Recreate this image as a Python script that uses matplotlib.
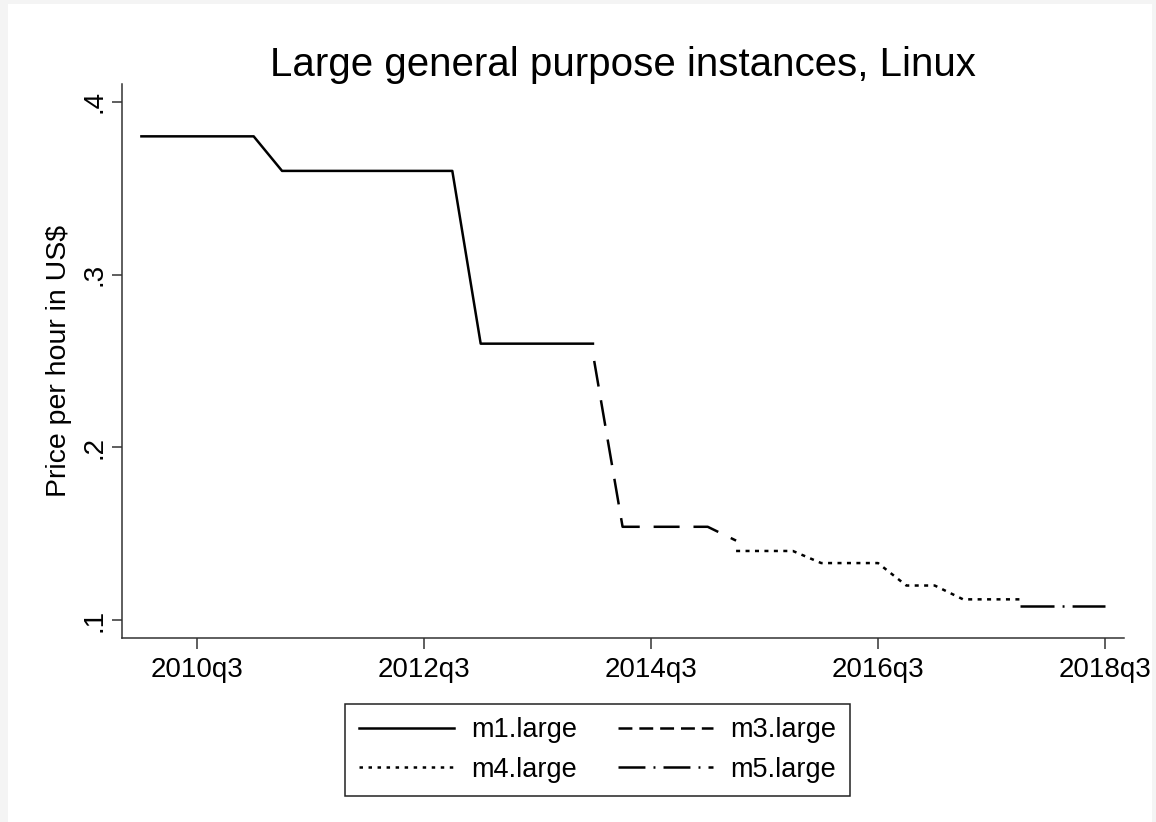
import matplotlib
matplotlib.use("Agg")
import matplotlib.pyplot as plt
from matplotlib.lines import Line2D
from matplotlib.patches import Rectangle
from matplotlib.ticker import FixedLocator, FuncFormatter

plt.rcParams['font.family'] = ['Liberation Sans', 'DejaVu Sans']
plt.rcParams['lines.scale_dashes'] = False

# data (quarterly prices, US$ per hour)
m1_quarters = ["2010q1", "2010q2", "2010q3", "2010q4", "2011q1", "2011q2",
               "2011q3", "2011q4", "2012q1", "2012q2", "2012q3", "2012q4",
               "2013q1", "2013q2", "2013q3", "2013q4", "2014q1"]
m1_price = [0.38, 0.38, 0.38, 0.38, 0.38, 0.36,
            0.36, 0.36, 0.36, 0.36, 0.36, 0.36,
            0.26, 0.26, 0.26, 0.26, 0.26]

m3_quarters = ["2014q1", "2014q2", "2014q3", "2014q4", "2015q1", "2015q2"]
m3_price = [0.25, 0.154, 0.154, 0.154, 0.154, 0.146]

m4_quarters = ["2015q2", "2015q3", "2015q4", "2016q1", "2016q2", "2016q3",
               "2016q4", "2017q1", "2017q2", "2017q3", "2017q4"]
m4_price = [0.14, 0.14, 0.14, 0.133, 0.133, 0.133,
            0.12, 0.12, 0.112, 0.112, 0.112]

m5_quarters = ["2017q4", "2018q1", "2018q2", "2018q3"]
m5_price = [0.108, 0.108, 0.108, 0.108]

x_ticks = ["2010q3", "2012q3", "2014q3", "2016q3", "2018q3"]
y_ticks = [0.1, 0.2, 0.3, 0.4]


# Stata style quarter number: quarters since 1960q1
def tq(s):
    year, q = s.split("q")
    return (int(year) - 1960) * 4 + int(q) - 1


def tq_label(v, pos=None):
    v = int(round(v))
    return f"{1960 + v // 4}q{v % 4 + 1}"


def dot_label(v, pos=None):
    return f"{v:.1f}".lstrip("0")


fig = plt.figure(figsize=(11.56, 8.22), dpi=100, facecolor="#f4f4f4")
fig.patches.append(Rectangle((8 / 1156, 0), 1 - 12 / 1156, 1 - 4 / 822,
                             transform=fig.transFigure, facecolor="white",
                             edgecolor="none", zorder=-10))
ax = fig.add_axes([122 / 1156, 1 - 637.7 / 822, 1002 / 1156, 553.7 / 822])
ax.set_facecolor("white")

lw = 1.8
styles = {
    "m1.large": "-",
    "m3.large": (0, (18.7, 10)),
    "m4.large": (0, (2.9, 3.9)),
    "m5.large": (0, (24.5, 5.8, 1.4, 5.8)),
}
legend_styles = {
    "m1.large": "-",
    "m3.large": (0, (10, 5)),
    "m4.large": (0, (2.5, 4)),
    "m5.large": (0, (19.4, 5.8, 1.4, 5.8)),
}

series = [
    ("m1.large", m1_quarters, m1_price),
    ("m3.large", m3_quarters, m3_price),
    ("m4.large", m4_quarters, m4_price),
    ("m5.large", m5_quarters, m5_price),
]
for name, qs, vals in series:
    ax.plot([tq(q) for q in qs], vals, color="black", lw=lw,
            linestyle=styles[name], solid_capstyle="butt",
            dash_capstyle="butt")

ax.set_xlim(199.36, 234.67)
ax.set_ylim(0.0898, 0.4103)

ax.xaxis.set_major_locator(FixedLocator([tq(q) for q in x_ticks]))
ax.xaxis.set_major_formatter(FuncFormatter(tq_label))
ax.yaxis.set_major_locator(FixedLocator(y_ticks))
ax.yaxis.set_major_formatter(FuncFormatter(dot_label))

for side in ["top", "right"]:
    ax.spines[side].set_visible(False)
for side in ["left", "bottom"]:
    ax.spines[side].set_color("#333333")
    ax.spines[side].set_linewidth(1.1)

ax.tick_params(axis="x", length=8, width=1.1, color="#333333",
               labelsize=20, pad=6)
ax.tick_params(axis="y", length=7.5, width=1.1, color="#333333",
               labelsize=20, pad=3)
for lab in ax.get_yticklabels():
    lab.set_rotation(90)
    lab.set_va("center")

ax.set_ylabel("Price per hour in US$", fontsize=20.5, labelpad=7)
ax.set_title("Large general purpose instances, Linux", fontsize=29, pad=6)

handles = [Line2D([], [], color="black", lw=lw, linestyle=legend_styles[n],
                  dash_capstyle="butt") for n, _, _ in series]
labels = [n for n, _, _ in series]
# order so that the legend reads m1, m3 / m4, m5 row by row
order = [0, 2, 1, 3]
leg = fig.legend([handles[i] for i in order], [labels[i] for i in order],
                 ncol=2, loc="center", bbox_to_anchor=(597.5 / 1156, 1 - 750 / 822),
                 bbox_transform=fig.transFigure, fontsize=19.5,
                 frameon=True, fancybox=False, edgecolor="#222222",
                 framealpha=1, handlelength=3.5, handletextpad=0.65,
                 columnspacing=1.5, labelspacing=0.5, borderpad=0.5)
leg.get_frame().set_linewidth(1.1)

fig.savefig("out.png", dpi=100, facecolor=fig.get_facecolor())
